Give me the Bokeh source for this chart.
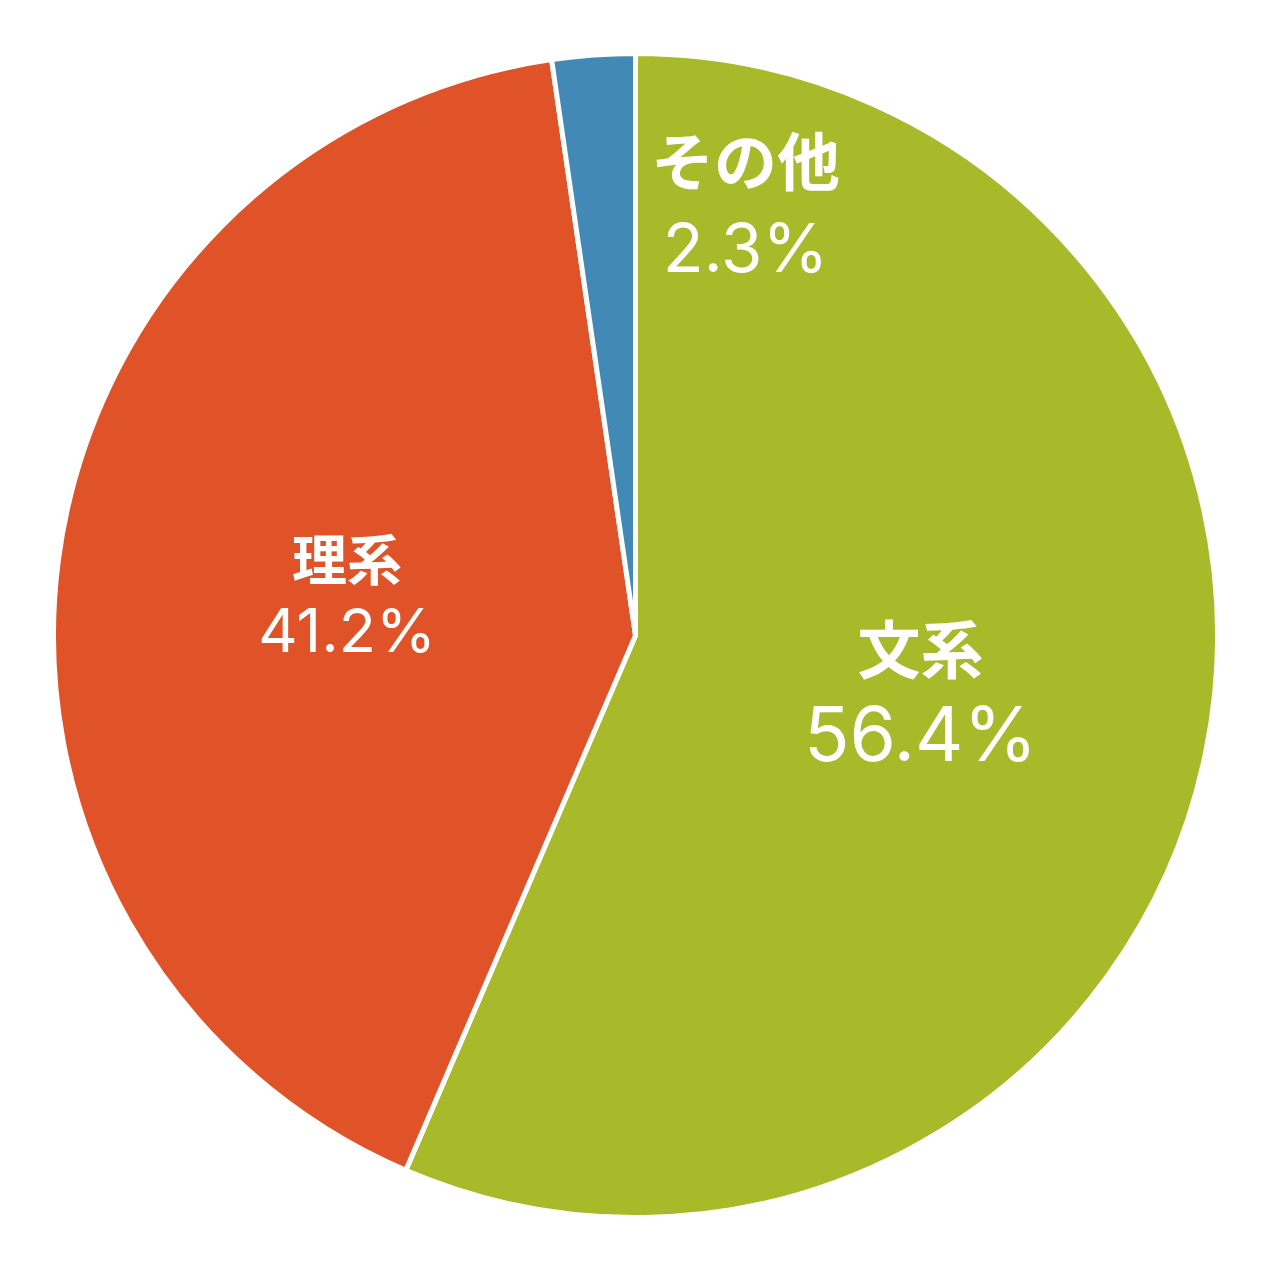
import math
from bokeh.plotting import figure
from bokeh.models import Range1d, ColumnDataSource
from bokeh.embed import file_html
from bokeh.resources import INLINE
from bokeh.core.properties import value

categories = ["文系", "理系", "その他"]
shares = [56.4, 41.2, 2.3]
pct_labels = ["56.4%", "41.2%", "2.3%"]
colors = ["#A8B92A", "#E05328", "#428AB5"]

W = H = 1255
R_PX = 582.0
CX, CY = 635.0, 635.0  # pixel centre from top-left of figure

p = figure(width=W, height=H, output_backend="svg", toolbar_location=None,
           x_range=Range1d(-CX / R_PX, (W - CX) / R_PX),
           y_range=Range1d(-(H - CY) / R_PX, CY / R_PX),
           min_border=0)
p.axis.visible = False
p.grid.visible = False
p.outline_line_color = None
p.background_fill_color = "white"
p.border_fill_color = "white"

total = sum(shares)
starts, ends, mids = [], [], []
cum = 0.0
for s in shares:
    a0 = cum / total
    cum += s
    a1 = cum / total
    starts.append(math.pi / 2 - 2 * math.pi * a0)
    ends.append(math.pi / 2 - 2 * math.pi * a1)
    mids.append((a0 + a1) / 2 * 2 * math.pi)  # clockwise from top

src = ColumnDataSource(dict(start=starts, end=ends, color=colors,
                            x=[0] * 3, y=[0] * 3))
p.wedge(x="x", y="y", radius=1.0, start_angle="start", end_angle="end",
        direction="clock", fill_color="color", line_color="white",
        line_width=5, source=src)

# label placement (small slice label is moved outside its narrow wedge)
name_sizes = ["63px", "55px", "63px"]
pct_sizes = ["75px", "61px", "67px"]
lift = 7 / R_PX
name_off = [42, 35, 43]
pct_off = [46, 39, 47]
for i, (cat, pl) in enumerate(zip(categories, pct_labels)):
    ang = mids[i]
    r = 0.5
    if shares[i] / total < 0.05:
        ang = math.radians(14.4)
        r = 0.76
    lx = r * math.sin(ang)
    ly = r * math.cos(ang) + lift
    p.text(x=[lx], y=[ly + name_off[i] / R_PX], text=[cat], text_align="center",
           text_baseline="middle", text_color="white",
           text_font=value("Noto Sans CJK JP"), text_font_style="bold",
           text_font_size=name_sizes[i])
    p.text(x=[lx], y=[ly - pct_off[i] / R_PX], text=[pl], text_align="center",
           text_baseline="middle", text_color="white",
           text_font=value("Inter"),
           text_font_size=pct_sizes[i])

open("out.html", "w").write(file_html(p, INLINE))
